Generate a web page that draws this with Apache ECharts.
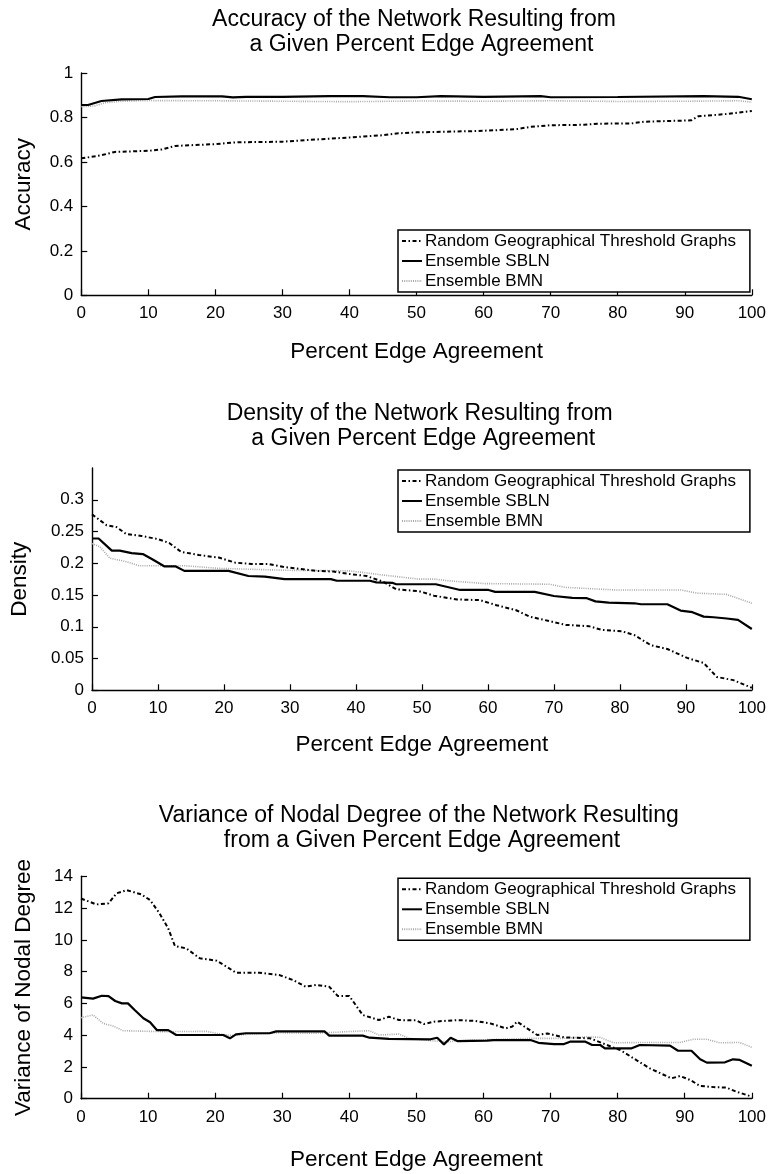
<!DOCTYPE html>
<html>
<head>
<meta charset="utf-8">
<script src="https://cdn.jsdelivr.net/npm/echarts@6/dist/echarts.min.js"></script>
<style>
html,body{margin:0;padding:0;background:#fff;}
#c{width:769px;height:1174px;}
</style>
</head>
<body>
<div id="c"></div>
<script>
// ---------- Data ----------
var seriesNames = ['Random Geographical Threshold Graphs', 'Ensemble SBLN', 'Ensemble BMN'];
var xTicks = [0, 10, 20, 30, 40, 50, 60, 70, 80, 90, 100];

// Chart 1: Accuracy
var accX_rand = [0,3,5,10,12,14,20,23,30,35,40,45,47,50,59,62,65,67,70,75,77,82,84,91,92,96,98,100];
var accY_rand = [0.616,0.630,0.645,0.650,0.656,0.672,0.680,0.688,0.691,0.701,0.710,0.720,0.728,0.733,0.739,0.743,0.748,0.758,0.765,0.767,0.772,0.773,0.781,0.787,0.805,0.815,0.822,0.829];
var accX_sbln = [0,1,3,6,10,11,15,21,22.6,24.6,30,37,42,46,50,53.6,60,68.5,70,80,92.8,98,100];
var accY_sbln = [0.856,0.856,0.874,0.881,0.883,0.892,0.895,0.895,0.890,0.893,0.893,0.896,0.896,0.891,0.891,0.896,0.893,0.896,0.891,0.892,0.896,0.893,0.882];
var accX_bmn = [0,2,3.5,6,10,20,40,50,60,70,80,90,98,100];
var accY_bmn = [0.848,0.852,0.866,0.873,0.876,0.875,0.871,0.874,0.873,0.875,0.872,0.873,0.875,0.869];

// Chart 2: Density
var denX_rand = [0,2.2,3.7,5.2,7.5,10,11.7,13.5,16.2,19.2,21.7,24.2,26.7,29.2,31.7,34.1,36.6,39.1,41.6,44.1,46.1,49.6,51.8,55.3,58.8,61.3,64.3,66.3,69.3,71.8,75.3,77.3,80.3,82.2,84.7,87.2,90.2,92.7,94.7,97.2,100];
var denY_rand = [0.277,0.260,0.257,0.246,0.243,0.238,0.232,0.218,0.213,0.209,0.201,0.199,0.199,0.194,0.191,0.188,0.187,0.183,0.180,0.171,0.159,0.156,0.149,0.143,0.142,0.134,0.126,0.116,0.109,0.103,0.101,0.095,0.093,0.087,0.071,0.065,0.051,0.043,0.021,0.016,0.004];
var denX_sbln = [0,1,3,4.2,6,7.7,9.2,11,12.7,14,20.7,23.7,26.2,29.2,36.2,37.1,42.1,43.1,45.6,46.1,52.1,55.8,60.1,61.1,67.1,70,72.8,75,76.3,78.3,82.2,83.2,87.2,89.2,91,92.7,94.2,96.2,97.9,100];
var denY_sbln = [0.239,0.239,0.220,0.220,0.216,0.2145,0.206,0.195,0.195,0.188,0.188,0.180,0.179,0.175,0.175,0.1725,0.1725,0.170,0.169,0.167,0.167,0.158,0.158,0.155,0.155,0.1485,0.1455,0.145,0.140,0.138,0.137,0.1355,0.1355,0.1255,0.123,0.116,0.115,0.113,0.111,0.0965];
var denX_bmn = [0,1.2,2.7,5.2,7.2,14.2,19.2,29.2,39.1,44.1,49.6,52,54,59.5,69.3,71.8,79.3,89.2,91.7,96.2,100];
var denY_bmn = [0.231,0.226,0.208,0.2025,0.196,0.196,0.192,0.189,0.188,0.1815,0.175,0.175,0.1725,0.168,0.167,0.162,0.158,0.158,0.153,0.151,0.137];
var denTicks = [0, 0.05, 0.1, 0.15, 0.2, 0.25, 0.3];

// Chart 3: Variance of nodal degree
var varX_rand = [0,2.3,4.1,5.3,6.8,9,10.3,11.7,13,14,15.7,17.7,20.2,21.7,23.1,26.6,29.6,31.6,33.5,35,37,38.3,40,42,44.4,45.9,47.4,50,51.1,52.6,56.1,58.6,61,63.3,64.3,65,66.5,68,69.5,72,75.9,78.4,80.4,82.8,84.8,88,89.3,90.8,92.3,94.7,96.2,97.7,100];
var varY_rand = [12.6,12.23,12.3,12.93,13.13,12.86,12.5,11.67,10.72,9.61,9.46,8.84,8.69,8.31,7.93,7.93,7.78,7.47,7.05,7.16,7.05,6.46,6.46,5.27,4.95,5.16,4.95,4.93,4.7,4.85,4.95,4.9,4.74,4.43,4.54,4.85,4.43,4.01,4.11,3.86,3.8,3.38,3.06,2.43,1.91,1.28,1.43,1.18,0.8,0.72,0.7,0.44,0.13];
var varX_sbln = [0,1.8,3.1,4.1,5.1,6.1,7,8,9.3,10.3,11.3,13,14.2,21.2,22.2,23.1,24.6,28.1,29.1,36.3,37,42,43,45.9,52.1,53.1,54.1,55.1,56.1,60.5,61.5,67,68.2,70.5,72,72.9,75.2,76.2,77.4,78.1,82.1,83.3,87.8,89,91,92.3,93.3,96,97.2,98.2,100];
var varY_sbln = [6.38,6.3,6.48,6.46,6.15,6.0,6.0,5.58,5.06,4.81,4.32,4.32,4.01,4.01,3.8,4.05,4.12,4.12,4.24,4.24,3.97,3.97,3.84,3.76,3.74,3.84,3.42,3.84,3.63,3.65,3.69,3.69,3.52,3.44,3.44,3.59,3.59,3.38,3.38,3.17,3.17,3.38,3.34,3.02,3.02,2.48,2.27,2.29,2.48,2.44,2.08];
var varX_bmn = [0,1.8,3.3,4.8,6.3,12.2,18.7,20.7,22.6,24.6,29.6,34.5,38,39.5,43,44.4,47.4,48.9,52.1,54.6,58.6,67,72,75.6,77.4,79.4,84.3,89.3,91.3,93.3,95.2,98.2,100];
var varY_bmn = [5.1,5.27,4.74,4.57,4.28,4.22,4.24,4.07,3.97,4.05,4.15,4.12,4.18,4.22,4.28,4.01,4.07,3.8,3.65,3.59,3.69,3.8,3.8,3.9,3.86,3.52,3.54,3.54,3.74,3.74,3.52,3.54,3.23];

// ---------- Build ----------
function zip(xs, ys) { return xs.map(function (x, i) { return [x, ys[i]]; }); }
var FONT = '"Liberation Sans", Arial, Helvetica, sans-serif';
var styles = [
  { color: '#000', width: 2, type: [4, 2.5, 1.5, 2.5] },
  { color: '#000', width: 2.2, type: 'solid' },
  { color: '#a8a8a8', width: 1.6, type: [1, 1.2] }
];
var grids = [
  { left: 81.3, right: 15.3, top: 73, height: 222.3 },
  { left: 85, right: 15.3, top: 468, height: 222.3 },
  { left: 81, right: 15.3, top: 876.3, height: 222.4 }
];
var titles = [
  ['Accuracy of the Network Resulting from', 414, 7], ['a Given Percent Edge Agreement', 421.5, 32],
  ['Density of the Network Resulting from', 419.7, 401], ['a Given Percent Edge Agreement', 423.3, 426],
  ['Variance of Nodal Degree of the Network Resulting', 418.8, 803], ['from a Given Percent Edge Agreement', 422, 828]
];
var legendTops = [230, 470, 878.3];
var yNames = ['Accuracy', 'Density', 'Variance of Nodal Degree'];
var yNameGaps = [46, 61, 46];
var xNameGaps = [45, 43, 50];
var yCfg = [
  { min: 0, max: 1, interval: 0.2 },
  { min: 0, max: 0.35, interval: 0.05, ticks: denTicks },
  { min: 0, max: 14, interval: 2 }
];
var data = [
  [zip(accX_rand, accY_rand), zip(accX_sbln, accY_sbln), zip(accX_bmn, accY_bmn)],
  [zip(denX_rand, denY_rand), zip(denX_sbln, denY_sbln), zip(denX_bmn, denY_bmn)],
  [zip(varX_rand, varY_rand), zip(varX_sbln, varY_sbln), zip(varX_bmn, varY_bmn)]
];

var axisLine = { show: true, lineStyle: { color: '#000', width: 1.4 } };
var option = {
  animation: false,
  backgroundColor: '#fff',
  textStyle: { fontFamily: FONT, color: '#000' },
  title: titles.map(function (t) {
    return { text: t[0], left: t[1], top: t[2], textAlign: 'center', padding: 0,
      textStyle: { fontFamily: FONT, fontSize: 23, fontWeight: 'normal', color: '#000', lineHeight: 25 } };
  }),
  legend: legendTops.map(function (top) {
    return { data: seriesNames, orient: 'vertical', left: 398, top: top,
      padding: [1, 14, 1, 3], itemGap: 0, itemWidth: 20, itemHeight: 14,
      backgroundColor: '#fff', borderColor: '#000', borderWidth: 1.5, borderRadius: 0,
      selectedMode: false,
      itemStyle: { opacity: 0, borderWidth: 0 },
      textStyle: { fontFamily: FONT, fontSize: 17, color: '#000', lineHeight: 20, padding: [0, 0, 0, -2] } };
  }),
  grid: grids,
  xAxis: grids.map(function (g, i) {
    return { type: 'value', gridIndex: i, min: 0, max: 100, interval: 10,
      name: 'Percent Edge Agreement', nameLocation: 'middle', nameGap: xNameGaps[i],
      nameTextStyle: { fontFamily: FONT, fontSize: 22.5, color: '#000' },
      axisLine: axisLine, splitLine: { show: false },
      axisTick: { show: true, inside: true, length: 6, lineStyle: { color: '#000', width: 1.2 } },
      axisLabel: { fontFamily: FONT, fontSize: 17, color: '#000', margin: 10,
        customValues: xTicks } };
  }),
  yAxis: grids.map(function (g, i) {
    var c = yCfg[i];
    var ax = { type: 'value', gridIndex: i, min: c.min, max: c.max, interval: c.interval,
      name: yNames[i], nameLocation: 'middle', nameGap: yNameGaps[i],
      nameTextStyle: { fontFamily: FONT, fontSize: 22.5, color: '#000' },
      axisLine: axisLine, splitLine: { show: false },
      axisTick: { show: true, inside: true, length: 6, lineStyle: { color: '#000', width: 1.2 } },
      axisLabel: { fontFamily: FONT, fontSize: 17, color: '#000', margin: 8 } };
    if (c.ticks) {
      ax.axisTick.customValues = c.ticks;
      ax.axisLabel.customValues = c.ticks;
    }
    return ax;
  }),
  series: []
};
for (var gi = 0; gi < 3; gi++) {
  for (var si = 0; si < 3; si++) {
    option.series.push({
      type: 'line', name: seriesNames[si], xAxisIndex: gi, yAxisIndex: gi,
      data: data[gi][si], symbol: 'none', showSymbol: false, smooth: false,
      lineStyle: { color: styles[si].color, width: styles[si].width, type: styles[si].type },
      itemStyle: { color: styles[si].color },
      z: si === 2 ? 2 : (si === 1 ? 4 : 3)
    });
  }
}
var chart = echarts.init(document.getElementById('c'), null, { renderer: 'canvas' });
chart.setOption(option);
</script>
</body>
</html>
